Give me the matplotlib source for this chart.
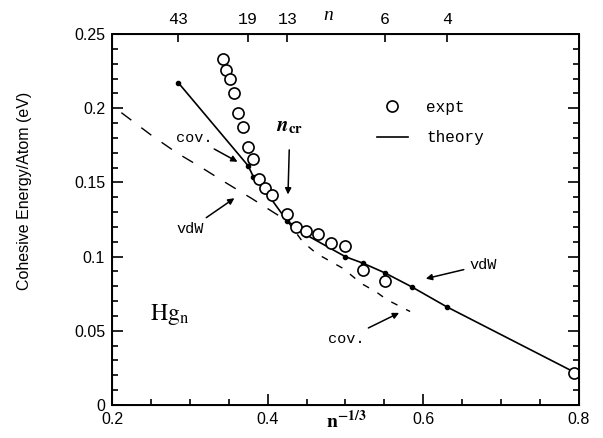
import numpy as np
import matplotlib.pyplot as plt
from matplotlib.lines import Line2D

plt.rcParams['mathtext.fontset'] = 'stix'

# experimental cluster sizes and cohesive energies (eV)
expt_n = [25, 24, 23, 22, 21, 20, 19, 18, 17, 16, 15, 13, 12, 11, 10, 9, 8, 7, 6, 2]
expt_e = [0.233, 0.226, 0.220, 0.210, 0.197, 0.187, 0.174, 0.1655, 0.152, 0.1464,
          0.1415, 0.1285, 0.1202, 0.1172, 0.115, 0.1094, 0.1074, 0.091, 0.0833, 0.0215]

# theory (solid line with dots)
theo_n = [43, 19, 18, 16, 13, 12, 11, 8, 7, 6, 5, 4, 2]
theo_e = [0.217, 0.1613, 0.1539, 0.1444, 0.1238, 0.120, 0.1146, 0.0999, 0.0955,
          0.0891, 0.0797, 0.0662, 0.0222]

# dashed extrapolations (x = n^-1/3)
vdw_x = [0.212, 0.25, 0.283, 0.315, 0.344, 0.38, 0.41, 0.4253]
vdw_e = [0.197, 0.182, 0.170, 0.160, 0.1505, 0.139, 0.129, 0.124]
cov_x = [0.4253, 0.445, 0.463, 0.48, 0.497, 0.52, 0.54, 0.553, 0.583]
cov_e = [0.124, 0.110, 0.102, 0.097, 0.092, 0.082, 0.076, 0.071, 0.063]

top_n = [43, 19, 13, 6, 4]

expt_x = np.array(expt_n, dtype=float) ** (-1.0 / 3)
theo_x = np.array(theo_n, dtype=float) ** (-1.0 / 3)

fig = plt.figure(figsize=(6.03, 4.38), dpi=100)
ax = fig.add_axes([112 / 603, 1 - 405 / 438, 467 / 603, 371 / 438])

ax.plot(theo_x, theo_e, '-', color='black', lw=1.2)
ax.plot(theo_x, theo_e, 'o', color='black', ms=3)
ax.plot(vdw_x, vdw_e, color='black', lw=1.0, dashes=(9, 9))
ax.plot(cov_x, cov_e, color='black', lw=1.0, dashes=(5, 7))
ax.plot(expt_x, expt_e, 'o', mfc='white', mec='black', ms=8, mew=1.2)

ax.set_xlim(0.2, 0.8)
ax.set_ylim(0, 0.25)
ax.set_xticks([0.2, 0.4, 0.6, 0.8])
ax.set_xticks(np.arange(0.2, 0.801, 0.05), minor=True)
ax.set_xticklabels(['0.2', '0.4', '0.6', '0.8'])
ax.set_yticks([0, 0.05, 0.1, 0.15, 0.2, 0.25])
ax.set_yticklabels(['0', '0.05', '0.1', '0.15', '0.2', '0.25'])
ax.set_yticks(np.arange(0, 0.2501, 0.01), minor=True)
ax.tick_params(which='both', direction='in', right=True, top=False,
               labelsize=11.5, width=1.2)
ax.tick_params(which='major', length=8, pad=5)
ax.tick_params(which='minor', length=4)
for lab in ax.get_xticklabels() + ax.get_yticklabels():
    lab.set_family('Liberation Sans')
for s in ax.spines.values():
    s.set_linewidth(1.4)

# top axis in cluster size n
top = ax.twiny()
top.set_xlim(ax.get_xlim())
top.set_xticks(np.array(top_n, dtype=float) ** (-1.0 / 3))
top.set_xticklabels([str(v) for v in top_n], family='Liberation Mono', fontsize=12)
top.tick_params(direction='in', length=6, width=1.2, pad=5)
top.text(0.4775, 1.028, 'n', transform=top.get_xaxis_transform(), ha='center',
         va='bottom', family='Liberation Serif', style='italic', fontsize=14)

fig.text(25 / 603, 1 - 191 / 438, 'Cohesive Energy/Atom (eV)', rotation=90,
         ha='center', va='center', family='Liberation Sans', fontsize=11.5)
fig.text(346 / 603, 1 - 421 / 438, r'$\mathbf{n}^{\mathbf{-1/3}}$', ha='center',
         va='center', fontsize=14)

ax.text(0.249, 0.057, r'$\mathrm{Hg}_\mathrm{n}$', fontsize=17, ha='left',
        va='baseline')

mono = dict(family='Liberation Mono', fontsize=11)
arr = dict(arrowstyle='-|>', color='black', lw=1.1, mutation_scale=9)
ax.annotate('cov.', xy=(0.3644, 0.163), xytext=(0.3053, 0.180),
            ha='center', va='center', arrowprops=arr, **mono)
ax.annotate('vdW', xy=(0.3602, 0.1404), xytext=(0.300, 0.1186),
            ha='center', va='center', arrowprops=arr, **mono)
ax.annotate('vdW', xy=(0.5997, 0.0847), xytext=(0.6766, 0.0943),
            ha='center', va='center', arrowprops=arr, **mono)
ax.annotate('cov.', xy=(0.5721, 0.0629), xytext=(0.5006, 0.0445),
            ha='center', va='center', arrowprops=arr, **mono)
ax.annotate(r'$\boldsymbol{n}_{\mathbf{cr}}$', xy=(0.426, 0.140), xytext=(0.4286, 0.188),
            ha='center', va='center', fontsize=15,
            arrowprops=dict(arrowstyle='-|>', color='black', lw=1.1,
                            mutation_scale=9, shrinkA=8))

handles = [Line2D([], [], ls='none', marker='o', mfc='white', mec='black', ms=8, mew=1.2),
           Line2D([], [], color='black', lw=1.2)]
leg = ax.legend(handles, ['expt', 'theory'], loc='upper left',
                bbox_to_anchor=(0.567, 0.822), frameon=False, borderpad=0,
                borderaxespad=0, handlelength=1.96, handletextpad=1.15,
                labelspacing=0.95, prop={'family': 'Liberation Mono', 'size': 11.5})

fig.savefig('out.png', dpi=100)
